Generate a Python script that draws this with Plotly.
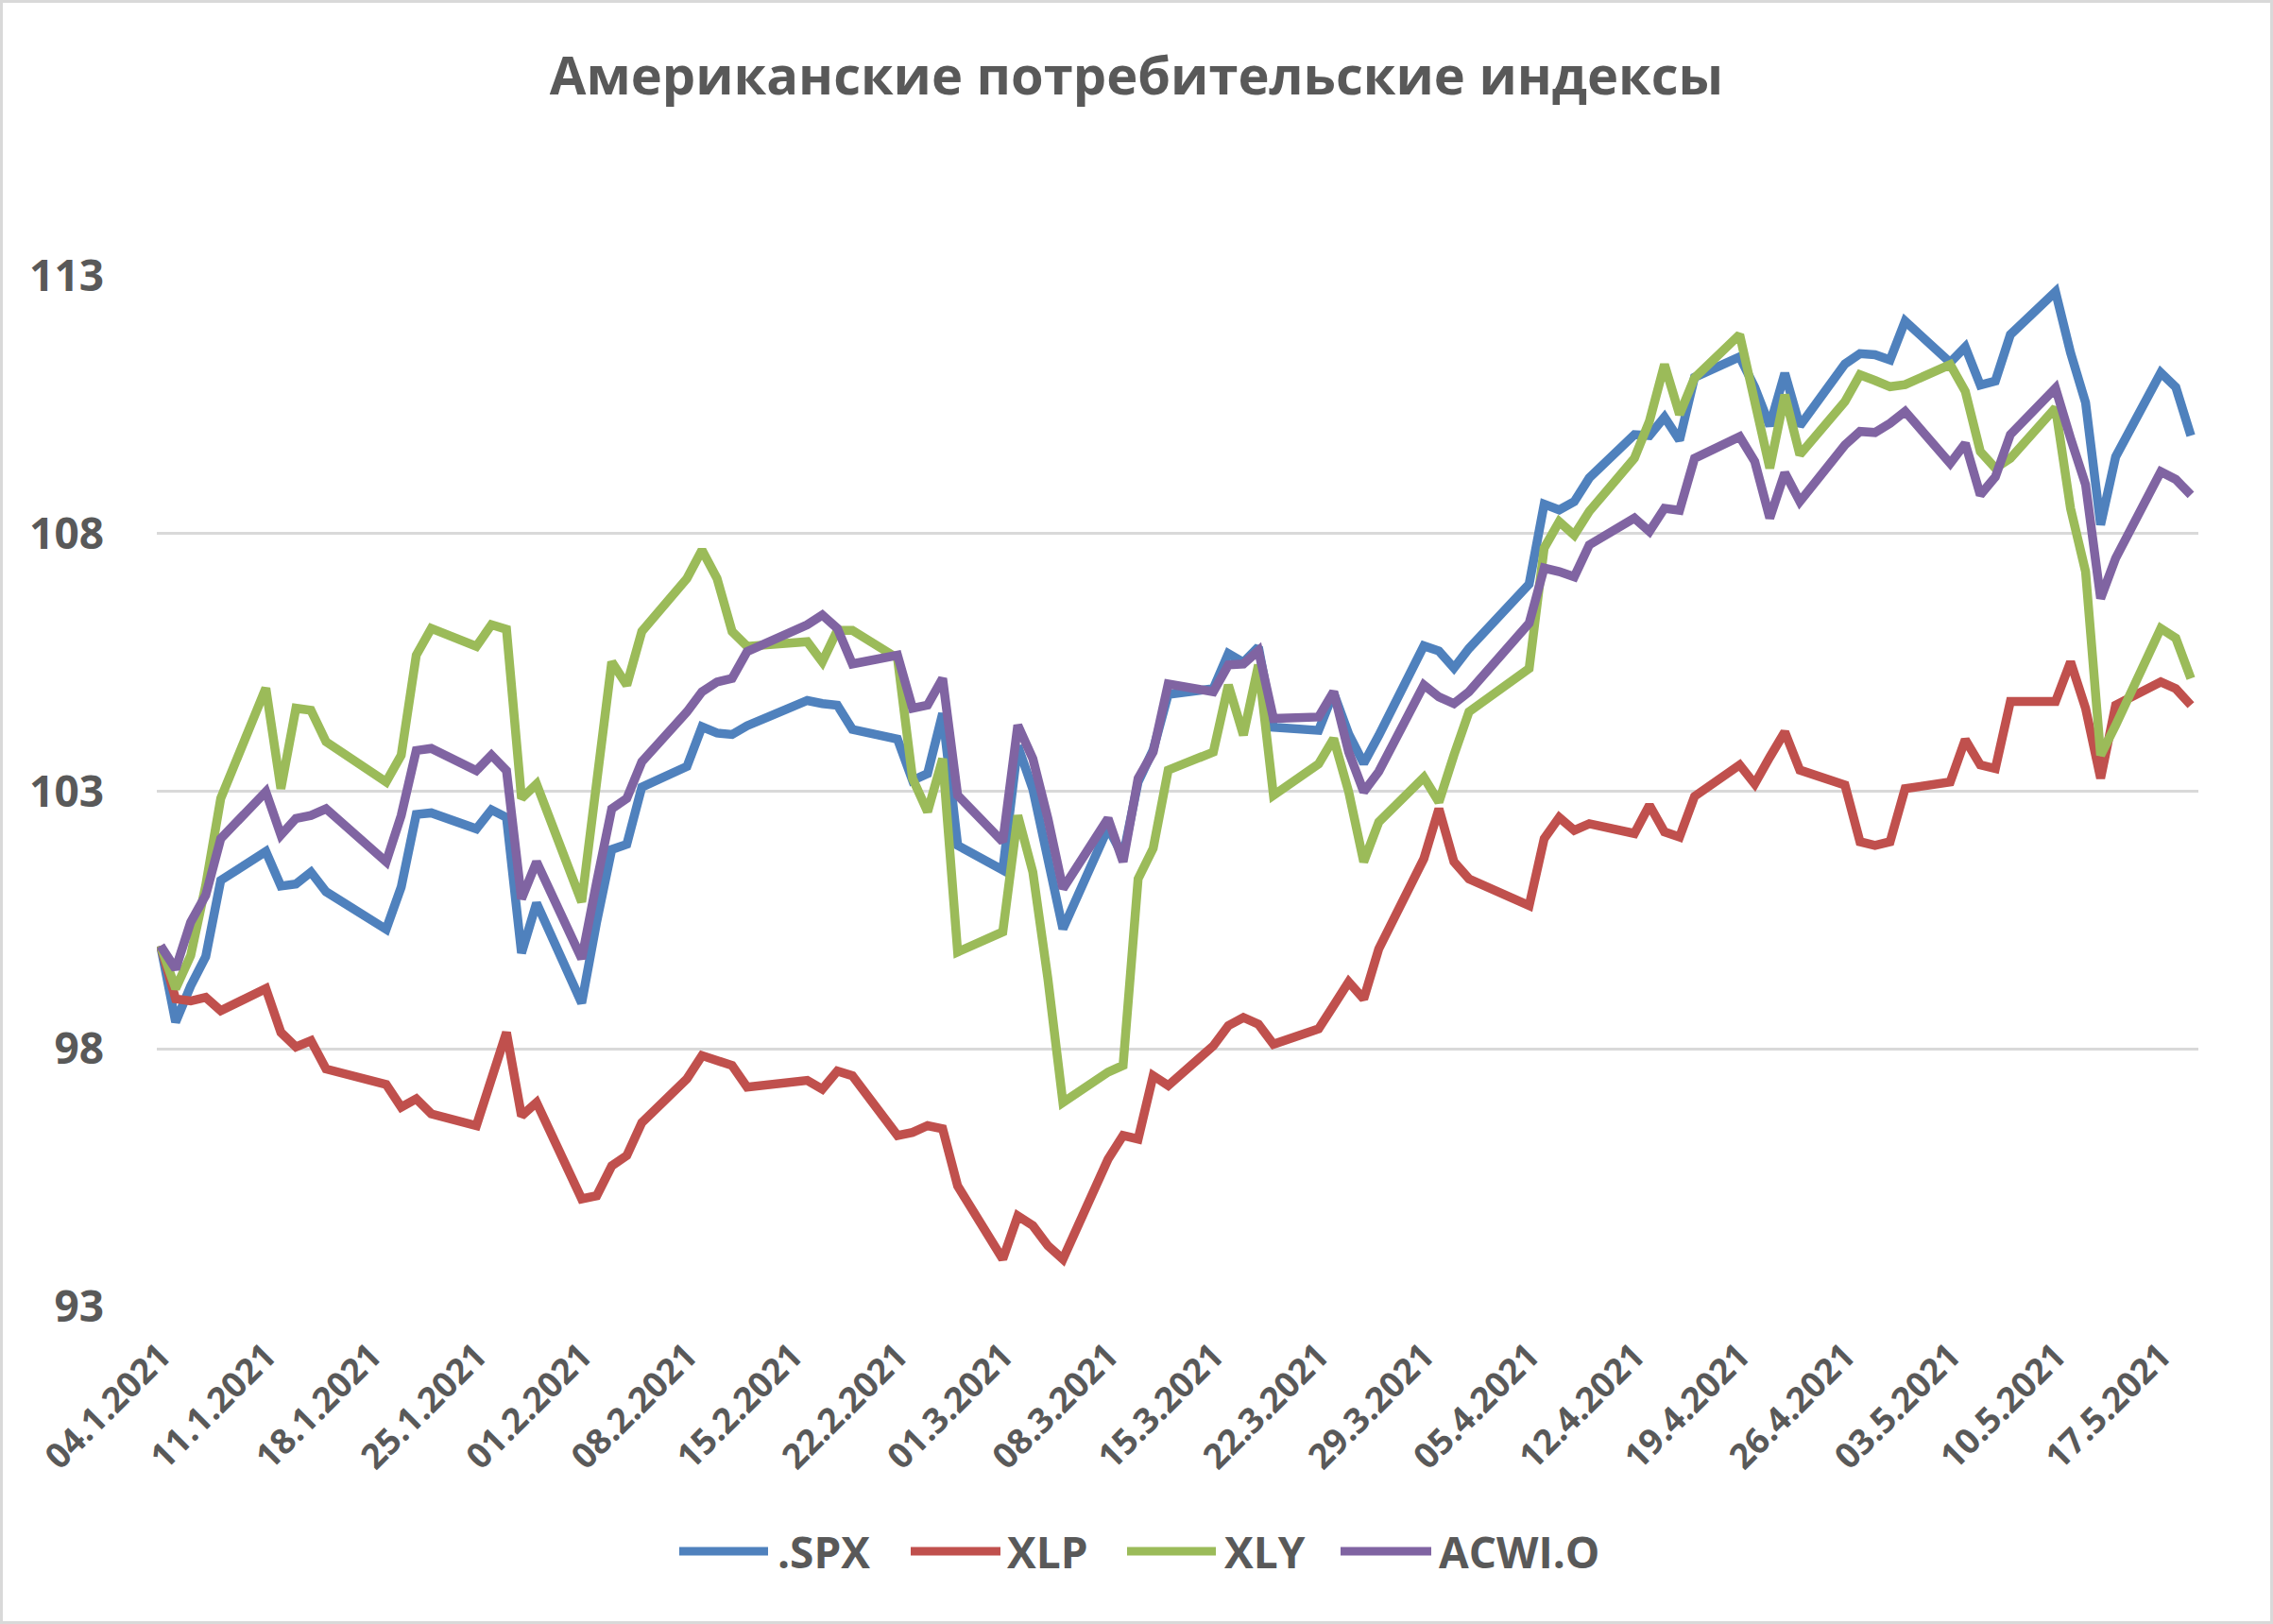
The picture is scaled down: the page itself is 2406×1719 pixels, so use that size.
import pandas as pd
import plotly.graph_objects as go

# ---------------- data ----------------
holidays = ["2021-01-18", "2021-02-15", "2021-04-02"]
dates = [d for d in pd.bdate_range("2021-01-04", "2021-05-19") if d.strftime("%Y-%m-%d") not in holidays]

series_names = [".SPX", "XLP", "XLY", "ACWI.O"]
series_colors = ["#4F81BD", "#C0504D", "#9BBB59", "#8064A2"]

spx = [100.00, 98.52, 99.22, 99.79, 101.27, 101.83, 101.16, 101.20, 101.43, 101.05,
       100.32, 101.14, 102.55, 102.58, 102.27, 102.64, 102.49, 99.86, 100.83, 98.89,
       100.47, 101.87, 101.97, 103.08, 103.48, 104.25, 104.13, 104.10, 104.27, 104.76,
       104.70, 104.67, 104.20, 104.01, 103.21, 103.34, 104.51, 101.95, 101.47, 103.88,
       103.04, 101.69, 100.33, 102.29, 101.74, 103.18, 103.80, 104.88, 104.99, 105.67,
       105.50, 105.80, 104.24, 104.18, 104.91, 104.11, 103.54, 104.08, 105.82, 105.72,
       105.39, 105.77, 107.02, 108.57, 108.46, 108.62, 109.08, 109.92, 109.90, 110.26,
       109.81, 111.03, 111.43, 110.84, 110.09, 111.11, 110.09, 111.29, 111.49, 111.47,
       111.37, 112.12, 111.32, 111.62, 110.88, 110.96, 111.86, 112.69, 111.51, 110.54,
       108.17, 109.49, 111.12, 110.84, 109.90]

xlp = [100.00, 98.97, 98.93, 99.00, 98.74, 99.17, 98.32, 98.04, 98.16, 97.61,
       97.31, 96.87, 97.03, 96.74, 96.51, 97.40, 98.32, 96.70, 96.96, 95.09,
       95.15, 95.73, 95.93, 96.57, 97.42, 97.87, 97.78, 97.68, 97.26, 97.39,
       97.22, 97.57, 97.48, 96.32, 96.38, 96.51, 96.45, 95.34, 93.92, 94.76,
       94.57, 94.18, 93.92, 95.86, 96.32, 96.25, 97.48, 97.29, 98.06, 98.45,
       98.61, 98.48, 98.09, 98.39, 98.84, 99.30, 98.97, 99.94, 101.69, 102.66,
       101.63, 101.30, 100.78, 102.08, 102.49, 102.24, 102.37, 102.18, 102.73, 102.21,
       102.11, 102.90, 103.51, 103.14, 103.66, 104.15, 103.41, 103.12, 102.02, 101.95,
       102.02, 103.05, 103.18, 104.00, 103.51, 103.44, 104.74, 104.74, 105.51, 104.61,
       103.25, 104.67, 105.12, 104.99, 104.67]

xly = [100.00, 99.17, 99.81, 101.17, 102.86, 105.00, 103.05, 104.61, 104.57, 103.96,
       103.18, 103.70, 105.64, 106.16, 105.81, 106.23, 106.14, 102.86, 103.14, 100.85,
       103.18, 105.51, 105.06, 106.10, 107.13, 107.68, 107.13, 106.10, 105.81, 105.90,
       105.51, 106.12, 106.12, 105.58, 103.25, 102.60, 103.63, 99.88, 100.27, 102.53,
       101.43, 99.36, 96.96, 97.55, 97.68, 101.30, 101.89, 103.41, 103.76, 105.06,
       104.09, 105.45, 102.92, 103.53, 104.02, 102.99, 101.63, 102.40, 103.27, 102.79,
       103.70, 104.54, 105.38, 107.72, 108.23, 107.97, 108.43, 109.46, 110.18, 111.28,
       110.31, 111.02, 111.86, 110.63, 109.27, 110.69, 109.53, 110.56, 111.08, 110.97,
       110.85, 110.89, 111.28, 110.76, 109.59, 109.27, 109.46, 110.44, 108.49, 107.26,
       103.70, 104.28, 106.16, 105.97, 105.19]

acwi = [100.00, 99.55, 100.46, 100.98, 102.08, 102.99, 102.15, 102.47, 102.53, 102.66,
        101.63, 102.53, 103.79, 103.83, 103.40, 103.70, 103.40, 100.91, 101.63, 99.75,
        101.24, 102.66, 102.86, 103.57, 104.54, 104.93, 105.12, 105.19, 105.71, 106.23,
        106.42, 106.16, 105.47, 105.64, 104.61, 104.67, 105.19, 102.92, 102.02, 104.28,
        103.63, 102.47, 101.11, 102.47, 101.63, 103.25, 103.76, 105.08, 104.93, 105.45,
        105.47, 105.73, 104.41, 104.44, 104.93, 103.76, 102.99, 103.38, 105.06, 104.83,
        104.70, 104.93, 106.26, 107.33, 107.26, 107.16, 107.78, 108.30, 108.04, 108.49,
        108.45, 109.46, 109.88, 109.40, 108.30, 109.18, 108.62, 109.72, 109.98, 109.96,
        110.14, 110.37, 109.36, 109.75, 108.75, 109.10, 109.92, 110.82, 109.85, 108.95,
        106.74, 107.52, 109.20, 109.05, 108.75]

series_values = [spx, xlp, xly, acwi]

tick_dates = pd.date_range("2021-01-04", "2021-05-17", freq="7D")
tick_labels = ["04.1.2021", "11.1.2021", "18.1.2021", "25.1.2021", "01.2.2021",
               "08.2.2021", "15.2.2021", "22.2.2021", "01.3.2021", "08.3.2021",
               "15.3.2021", "22.3.2021", "29.3.2021", "05.4.2021", "12.4.2021",
               "19.4.2021", "26.4.2021", "03.5.2021", "10.5.2021", "17.5.2021"]
y_ticks = [93, 98, 103, 108, 113]

title_text = "Американские потребительские индексы"

# ---------------- layout geometry ----------------
W, H = 2406, 1719
PL, PR, PT, PB = 166, 2327, 292, 1383
pw, ph = PR - PL, PB - PT


def px_x(p):
    return (p - PL) / pw


def px_y(p):
    return (PB - p) / ph


GRAY = "#595959"
FONT = "Open Sans"

fig = go.Figure()
for name, vals, col in zip(series_names, series_values, series_colors):
    fig.add_trace(go.Scatter(x=dates, y=vals, mode="lines", name=name,
                             line=dict(color=col, width=9.5), showlegend=False))

# manual legend (long sample lines as in the original)
leg_y = px_y(1642)
leg_lines = [(719, 813), (964, 1059), (1193, 1287), (1419, 1515)]
leg_text_x = [822, 1065, 1295, 1522]
shapes = []
annotations = []
for (x0, x1), tx, name, col in zip(leg_lines, leg_text_x, series_names, series_colors):
    shapes.append(dict(type="line", xref="paper", yref="paper",
                       x0=px_x(x0), x1=px_x(x1), y0=leg_y, y1=leg_y,
                       line=dict(color=col, width=9)))
    annotations.append(dict(xref="paper", yref="paper", x=px_x(tx), y=leg_y,
                            xanchor="left", yanchor="middle", showarrow=False,
                            text=name, borderpad=0,
                            font=dict(family=FONT, size=46, color=GRAY, weight="bold")))

# chart border
shapes.append(dict(type="rect", xref="paper", yref="paper",
                   x0=px_x(1.5), x1=px_x(W - 1.5), y0=px_y(H - 1.5), y1=px_y(1.5),
                   line=dict(color="#D9D9D9", width=3), fillcolor="rgba(0,0,0,0)"))

fig.update_layout(
    width=W, height=H,
    margin=dict(l=PL, r=W - PR, t=PT, b=H - PB),
    paper_bgcolor="white", plot_bgcolor="white",
    title=dict(text=title_text, x=0.5, xref="container", xanchor="center",
               y=1 - 80 / H, yref="container", yanchor="middle",
               font=dict(family=FONT, size=56, color=GRAY, weight="bold")),
    shapes=shapes, annotations=annotations,
    showlegend=False,
)

fig.update_xaxes(type="date",
                 range=["2021-01-03 18:00", "2021-05-19 12:00"],
                 tickvals=list(tick_dates), ticktext=tick_labels,
                 tickangle=-45, showgrid=False, zeroline=False, showline=False,
                 ticks="", ticklabelstandoff=22,
                 tickfont=dict(family=FONT, size=37, color=GRAY, weight="bold"))
fig.update_yaxes(range=[93, 113], tickvals=y_ticks, showgrid=True,
                 gridcolor="#D9D9D9", gridwidth=2.7, zeroline=False, showline=False,
                 ticks="", ticklabelstandoff=55,
                 tickfont=dict(family=FONT, size=46, color=GRAY, weight="bold"))

fig.write_html("out.html")
